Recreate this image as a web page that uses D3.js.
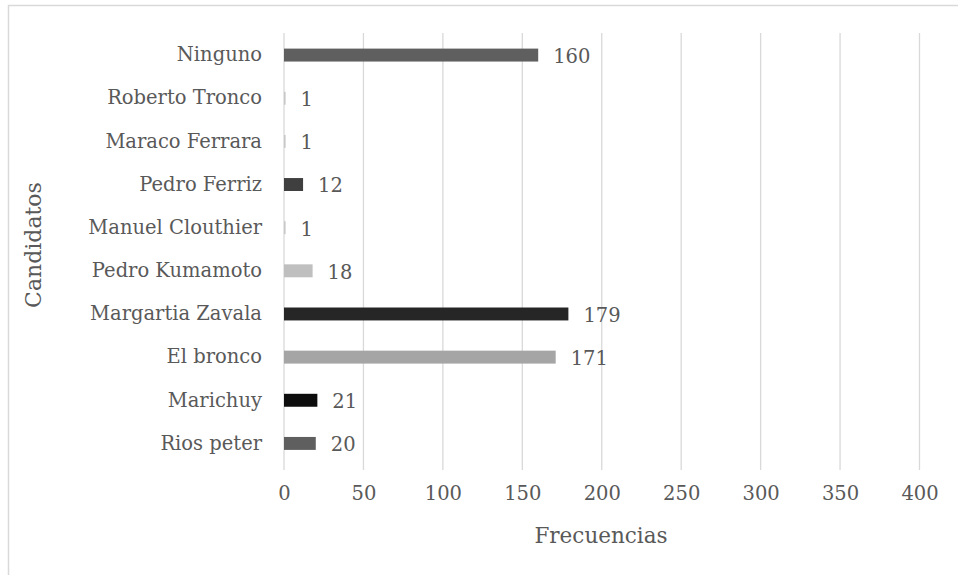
<!DOCTYPE html>
<html><head><meta charset="utf-8">
<script src="https://cdn.jsdelivr.net/npm/d3@7"></script>
<style>html,body{margin:0;padding:0;background:#fff;}svg{display:block;}</style>
</head><body>
<script>
const categories = ["Rios peter","Marichuy","El bronco","Margartia Zavala","Pedro Kumamoto","Manuel Clouthier","Pedro Ferriz","Maraco Ferrara","Roberto Tronco","Ninguno"];
const values = [20,21,171,179,18,1,12,1,1,160];
const colors = ["#5f5f5f","#0d0d0d","#a5a5a5","#262626","#bfbfbf","#c8c8c8","#3f3f3f","#c8c8c8","#c8c8c8","#5f5f5f"];
const xTicks = [0,50,100,150,200,250,300,350,400];
const xTitle = "Frecuencias", yTitle = "Candidatos";

const W = 958, H = 575;
const svg = d3.select("body").append("svg").attr("width", W).attr("height", H);
const font = "'DejaVu Serif', serif";
const txt = "#595959";
const fs = "19.5px";

svg.append("path").attr("d", `M8.5,${H} L8.5,5.5 L${W},5.5`).attr("fill","none").attr("stroke","#d9d9d9").attr("stroke-width",1.5);

const x = d3.scaleLinear().domain([0,400]).range([284,919.5]);
const y = d3.scaleBand().domain(categories.slice().reverse()).range([33.5,465]).paddingInner(0.7).paddingOuter(0.35);

const grid = svg.append("g");
grid.selectAll("line").data(xTicks).join("line")
  .attr("x1", d=>x(d)).attr("x2", d=>x(d)).attr("y1",33).attr("y2",470)
  .attr("stroke","#d9d9d9").attr("stroke-width",1.3);

const xAxis = svg.append("g").attr("transform","translate(0,470)")
  .call(d3.axisBottom(x).tickValues(xTicks).tickSize(0).tickPadding(16));
xAxis.select(".domain").remove();
xAxis.selectAll("text").attr("fill",txt).style("font-family",font).style("font-size",fs);

const yAxis = svg.append("g").attr("transform","translate(284,0)")
  .call(d3.axisLeft(y).tickSize(0).tickPadding(22));
yAxis.select(".domain").remove();
yAxis.selectAll("text").attr("fill",txt).style("font-family",font).style("font-size",fs);

const data = categories.map((c,i)=>({c, v:values[i], col:colors[i]}));
svg.append("g").selectAll("rect").data(data).join("rect")
  .attr("x", x(0)).attr("y", d=>y(d.c)).attr("width", d=>Math.max(x(d.v)-x(0),1.5)).attr("height", y.bandwidth())
  .attr("fill", d=>d.col);

svg.append("g").selectAll("text").data(data).join("text")
  .attr("x", d=>x(d.v)+15).attr("y", d=>y(d.c)+y.bandwidth()/2+1).attr("dy","0.35em")
  .attr("fill",txt).style("font-family",font).style("font-size",fs).text(d=>d.v);

svg.append("text").attr("x",601).attr("y",535).attr("dy","0.35em").attr("text-anchor","middle")
  .attr("fill",txt).style("font-family",font).style("font-size","21.5px").text(xTitle);
svg.append("text").attr("transform","translate(33,245) rotate(-90)").attr("dy","0.35em").attr("text-anchor","middle")
  .attr("fill",txt).style("font-family",font).style("font-size","22px").text(yTitle);
</script>
</body></html>
